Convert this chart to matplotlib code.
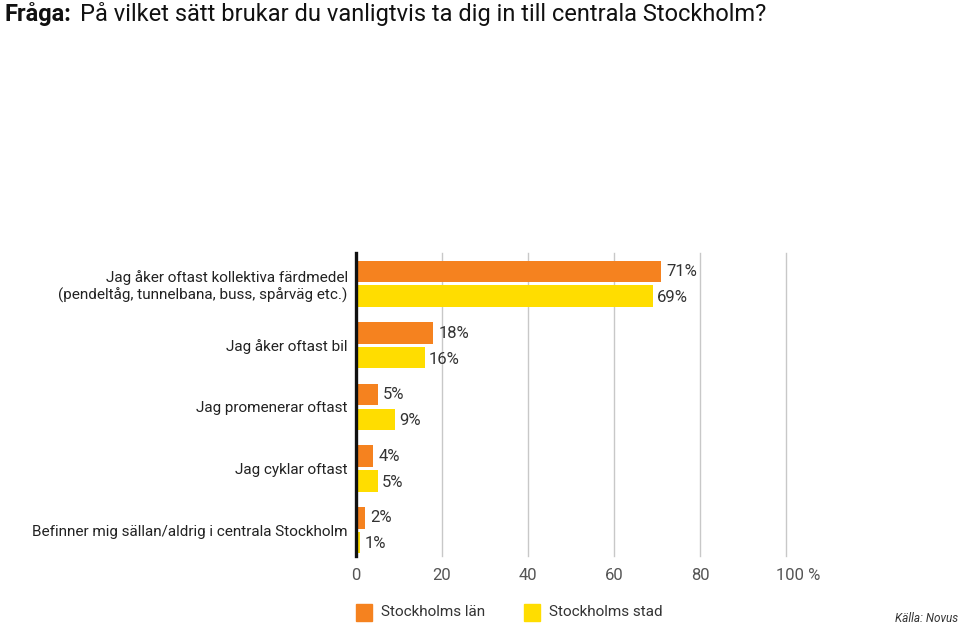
import numpy as np
import matplotlib
matplotlib.use("Agg")
import matplotlib.pyplot as plt
import matplotlib.transforms as mtransforms
from matplotlib.patches import Rectangle

categories = ["Jag åker oftast kollektiva färdmedel\n(pendeltåg, tunnelbana, buss, spårväg etc.)",
              "Jag åker oftast bil",
              "Jag promenerar oftast",
              "Jag cyklar oftast",
              "Befinner mig sällan/aldrig i centrala Stockholm"]
lan = [71, 18, 5, 4, 2]
stad = [69, 16, 9, 5, 1]
series_names = ["Stockholms län", "Stockholms stad"]
xticks = [0, 20, 40, 60, 80, 100]
xticklabels = ["0", "20", "40", "60", "80", "100 %"]

ORANGE = "#F5821F"
YELLOW = "#FFDD00"
TXT = "#222222"

plt.rcParams['font.family'] = ['Roboto', 'DejaVu Sans']

fig = plt.figure(figsize=(9.6, 6.24), dpi=100)
ax = fig.add_axes([356/960, 1-556/624, 430/960, (556-253)/624])

y = np.arange(len(categories))
h = 0.35
off = 0.2
ax.barh(y - off, lan, height=h, color=ORANGE, zorder=3)
ax.barh(y + off, stad, height=h, color=YELLOW, zorder=3)

for i in range(len(categories)):
    ax.annotate(f"{lan[i]}%", (lan[i], y[i] - off), xytext=(4, 0), textcoords="offset points",
                ha="left", va="center", fontsize=12, color="#333333")
    ax.annotate(f"{stad[i]}%", (stad[i], y[i] + off), xytext=(3, -1), textcoords="offset points",
                ha="left", va="center", fontsize=12, color="#333333")

ax.set_xlim(0, 100)
ax.set_ylim(len(categories) - 0.58, -0.5)
for t in xticks[1:]:
    ax.axvline(t, color="#c8c8c8", lw=1, zorder=1, clip_on=False)

for s in ["top", "right", "bottom"]:
    ax.spines[s].set_visible(False)
ax.spines["left"].set_linewidth(2.4)
ax.spines["left"].set_color("#111111")
ax.spines["left"].set_zorder(4)

ax.set_xticks(xticks)
ax.set_xticklabels(xticklabels, fontsize=12, color="#555555")
ax.tick_params(axis="x", length=0, pad=9)
last = ax.get_xticklabels()[-1]
last.set_ha("left")
last.set_transform(last.get_transform() + mtransforms.ScaledTranslation(-10/100, 0, fig.dpi_scale_trans))
ax.set_yticks(y)
ax.set_yticklabels(categories, fontsize=11, color=TXT, ha="right", linespacing=1.2)
ax.tick_params(axis="y", length=0, pad=6)

# title
fig.text(4/960, 1-14/624, "Fråga:", fontsize=17, fontweight="bold", color="#111111", va="center")
fig.text(80/960, 1-14/624, "På vilket sätt brukar du vanligtvis ta dig in till centrala Stockholm?",
         fontsize=17, color="#111111", va="center")

# legend
for x0, col, name in [(356, ORANGE, series_names[0]), (524, YELLOW, series_names[1])]:
    fig.patches.append(Rectangle((x0/960, 1-621/624), 16/960, 17/624,
                                 transform=fig.transFigure, color=col))
    fig.text((x0+25)/960, 1-612/624, name, fontsize=11, color="#333333", va="center")

fig.text(958/960, 1-619/624, "Källa: Novus", fontsize=8.5, style="italic", color="#333333",
         ha="right", va="center")

plt.savefig("out.png", dpi=100)
